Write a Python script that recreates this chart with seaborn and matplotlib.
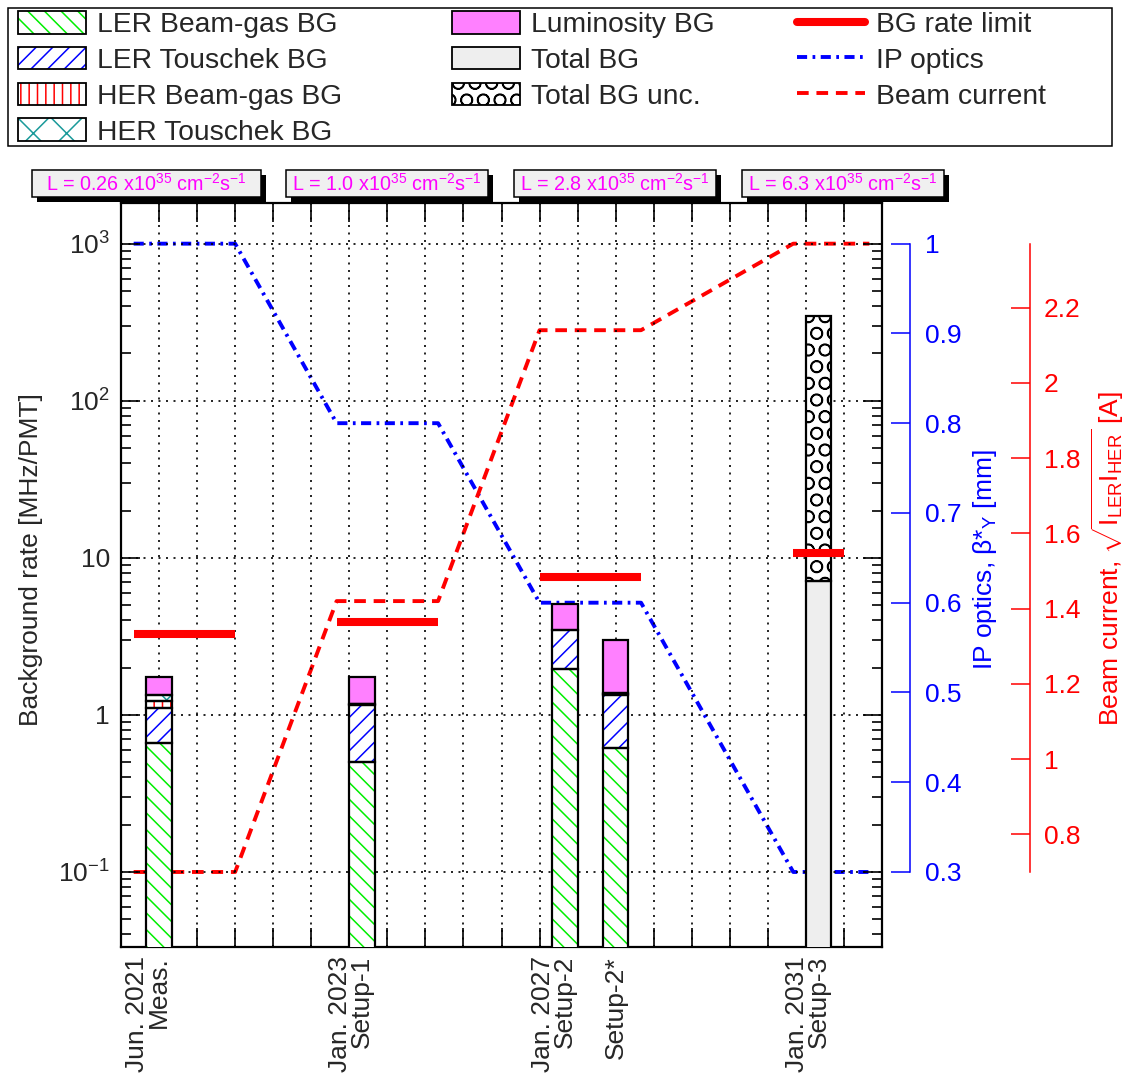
import matplotlib
matplotlib.use('Agg')
import matplotlib.pyplot as plt
import matplotlib.transforms as mtransforms
import numpy as np
import seaborn as sns
from matplotlib.lines import Line2D
from matplotlib.patches import Patch, Rectangle
from matplotlib.ticker import FixedLocator, FixedFormatter, LogLocator, MultipleLocator, NullFormatter, FuncFormatter

# ---- data ----
setup_x = [1.0, 6.333, 11.667, 13.0, 18.333]
setup_names = ['Meas.', 'Setup-1', 'Setup-2', 'Setup-2*', 'Setup-3']
setup_dates = ['Jun. 2021', 'Jan. 2023', 'Jan. 2027', '', 'Jan. 2031']

ler_bgas = [0.66, 0.50, 1.97, 0.62, 0.0]
ler_tous = [0.45, 0.66, 1.50, 0.72, 0.0]
her_bgas = [0.12, 0.01, 0.0, 0.02, 0.0]
her_tous = [0.10, 0.01, 0.0, 0.01, 0.0]
lumi_bg = [0.42, 0.57, 1.60, 1.61, 0.0]
total_bg = [0.0, 0.0, 0.0, 0.0, 7.14]
total_unc_top = [0.0, 0.0, 0.0, 0.0, 345.0]

limit_x0 = [0.333, 5.667, 11.0, 17.667]
limit_x1 = [3.0, 8.333, 13.667, 19.0]
limit_rate = [3.26, 3.92, 7.57, 10.8]

line_x = [0.333, 3.0, 5.667, 8.333, 11.0, 13.667, 17.667, 19.667]
beta_y = [1.0, 1.0, 0.8, 0.8, 0.6, 0.6, 0.3, 0.3]
beam_current = [0.70, 0.70, 1.42, 1.42, 2.14, 2.14, 2.37, 2.37]

lumi_values = ['0.26', '1.0', '2.8', '6.3']

beta_axis = (0.3, 1.0)
current_axis = (0.70, 2.37)
rate_lim = (0.0333, 1815.0)

W, H = 1127, 1083


def twin_limits(lo, hi):
    # place lo/hi at the heights of 1e-1 and 1e3 on the log frame
    span = np.log10(rate_lim[1]) - np.log10(rate_lim[0])
    f_lo = (-1 - np.log10(rate_lim[0])) / span
    f_hi = (3 - np.log10(rate_lim[0])) / span
    full = (hi - lo) / (f_hi - f_lo)
    bottom = lo - f_lo * full
    return bottom, bottom + full


def draw_segment(ax, x, bottom, height, face, hatch_color=None, hatch=None):
    if height <= 0:
        return
    if hatch:
        ax.bar(x, height, bottom=bottom, width=0.667, facecolor=face, edgecolor=hatch_color,
               hatch=hatch, linewidth=0, zorder=3)
    else:
        ax.bar(x, height, bottom=bottom, width=0.667, facecolor=face, linewidth=0, zorder=3)
    ax.bar(x, height, bottom=bottom, width=0.667, fill=False, edgecolor='black', linewidth=1.6, zorder=4)


def run():
    sns.set_style('white')
    plt.rcParams['font.family'] = ['Liberation Sans', 'DejaVu Sans']
    plt.rcParams['mathtext.fontset'] = 'custom'
    plt.rcParams['mathtext.rm'] = 'Liberation Sans'
    plt.rcParams['mathtext.it'] = 'Liberation Sans:italic'
    plt.rcParams['mathtext.bf'] = 'Liberation Sans:bold'
    plt.rcParams['hatch.linewidth'] = 1.1

    fig = plt.figure(figsize=(W / 100, H / 100), dpi=100)
    ax = fig.add_axes([121 / W, 1 - 947 / H, 761 / W, 744 / H])

    green, blue, red, teal = '#00ee00', '#0000ff', '#ff0000', '#1a9a9a'
    layers = [
        (ler_bgas, 'white', green, '\\\\'),
        (ler_tous, 'white', blue, '//'),
        (her_bgas, 'white', red, '||'),
        (her_tous, 'white', teal, 'x'),
        (lumi_bg, '#ff80ff', None, None),
    ]
    bottoms = np.zeros(len(setup_x))
    for vals, face, hc, hatch in layers:
        for i, x in enumerate(setup_x):
            draw_segment(ax, x, bottoms[i], vals[i], face, hc, hatch)
        bottoms += np.array(vals)
    for i, x in enumerate(setup_x):
        draw_segment(ax, x, 0, total_bg[i], '#eeeeee')
        draw_segment(ax, x, total_bg[i], total_unc_top[i] - total_bg[i], 'white', 'black', 'O')

    ax.hlines(limit_rate, limit_x0, limit_x1, colors=red, linewidth=5.8, zorder=6)

    ax.set_yscale('log')
    ax.set_xlim(0, 20)
    ax.set_ylim(*rate_lim)
    ax.xaxis.set_major_locator(MultipleLocator(1))
    ax.yaxis.set_major_locator(FixedLocator([0.1, 1, 10, 100, 1000]))
    ax.yaxis.set_major_formatter(FixedFormatter(['$10^{-1}$', '1', '10', '$10^{2}$', '$10^{3}$']))
    ax.yaxis.set_minor_locator(LogLocator(base=10, subs=np.arange(2, 10), numticks=30))
    ax.yaxis.set_minor_formatter(NullFormatter())
    ax.grid(True, which='major', color='black', linestyle=(0, (1.2, 3.3)), linewidth=1.2)
    ax.set_axisbelow(True)
    for sp in ax.spines.values():
        sp.set_linewidth(1.6)
        sp.set_color('black')

    # IP optics axis
    ax2 = ax.twinx()
    sns.lineplot(x=line_x, y=beta_y, ax=ax2, color=blue, linewidth=2.8,
                 linestyle=(0, (2.6, 1.4, 0.7, 1.4)), zorder=2)
    ax2.set_ylim(*twin_limits(*beta_axis))
    ax2.spines['right'].set_position(('axes', 1 + 28 / 761))
    ax2.spines['right'].set_bounds(*beta_axis)
    ax2.spines['right'].set_color(blue)
    ax2.spines['right'].set_linewidth(1.1)
    ax2.yaxis.set_major_locator(FixedLocator(np.round(np.arange(0.3, 1.01, 0.1), 1)))
    ax2.yaxis.set_major_formatter(FuncFormatter(lambda v, p: '%g' % v))
    ax2.tick_params(axis='y', direction='in', length=14, width=1.1, colors=blue, labelsize=19, pad=11)

    # beam current axis
    ax3 = ax.twinx()
    sns.lineplot(x=line_x, y=beam_current, ax=ax3, color=red, linewidth=2.8,
                 linestyle=(0, (3.0, 2.0)), zorder=2)
    ax3.set_ylim(*twin_limits(*current_axis))
    ax3.spines['right'].set_position(('axes', 1 + 148 / 761))
    ax3.spines['right'].set_bounds(*current_axis)
    ax3.spines['right'].set_color(red)
    ax3.spines['right'].set_linewidth(1.1)
    ax3.yaxis.set_major_locator(FixedLocator([0.8, 1.0, 1.2, 1.4, 1.6, 1.8, 2.0, 2.2]))
    ax3.yaxis.set_major_formatter(FuncFormatter(lambda v, p: '%g' % v))
    ax3.tick_params(axis='y', direction='in', length=14, width=1.1, colors=red, labelsize=19, pad=10)

    for a in (ax2, ax3):
        a.set_xlabel('')
        a.set_ylabel('')
        for s in ('left', 'top', 'bottom'):
            a.spines[s].set_visible(False)

    ax.set_zorder(ax3.get_zorder() + 1)
    ax.patch.set_visible(False)
    ax.tick_params(which='both', direction='in', top=True, right=True, bottom=True, left=True,
                   labelbottom=False, labelsize=19, pad=8, width=1.2, color='black')
    ax.tick_params(which='major', length=14)
    ax.tick_params(which='minor', length=7)
    ax.set_xlabel('')

    # bin labels under the frame
    trans = mtransforms.blended_transform_factory(ax.transData, ax.transAxes)
    for x, name, date in zip(setup_x, setup_names, setup_dates):
        ax.text(x, -0.012, name, transform=trans, rotation=90, ha='center', va='top', fontsize=19)
        if date:
            ax.text(x - 0.58, -0.012, date, transform=trans, rotation=90, ha='center', va='top', fontsize=19)

    # axis titles
    fig.text(31 / W, 1 - 560 / H, 'Background rate [MHz/PMT]', rotation=90, ha='center', va='center', fontsize=19)
    fig.text(985 / W, 1 - 560 / H, r'IP optics, β*$_{\mathrm{Y}}$ [mm]', rotation=90, ha='center', va='center',
             fontsize=19, color=blue)
    fig.text(1108 / W, 1 - 558 / H,
             r'Beam current, $\sqrt{\mathrm{I}_{\mathrm{LER}}\mathrm{I}_{\mathrm{HER}}}$ [A]',
             rotation=90, ha='center', va='center', fontsize=19, color=red)

    # luminosity boxes with shadow
    box_left = [32, 286, 514, 742]
    box_width = [229, 202, 202, 202]
    for lv, bl, bw in zip(lumi_values, box_left, box_width):
        fig.add_artist(Rectangle(((bl + 5) / W, 1 - 202 / H), bw / W, 27 / H, transform=fig.transFigure,
                                 facecolor='black', edgecolor='black', linewidth=0))
        fig.add_artist(Rectangle((bl / W, 1 - 197 / H), bw / W, 27 / H, transform=fig.transFigure,
                                 facecolor='#f0f0f0', edgecolor='black', linewidth=1.1))
        fig.text((bl + bw / 2) / W, 1 - 183.5 / H,
                 r'L = %s x10$^{35}$ cm$^{-2}$s$^{-1}$' % lv,
                 ha='center', va='center', fontsize=14.2, color='#ff00ff')

    # legend: three columns in one frame
    def hatched(c, h):
        return (Patch(facecolor='white', edgecolor=c, hatch=h, linewidth=0),
                Patch(facecolor='none', edgecolor='black', linewidth=1.3))

    handles = [
        hatched(green, '\\\\'), hatched(blue, '//'), hatched(red, '||'), hatched(teal, 'x'),
        Patch(facecolor='#ff80ff', edgecolor='black', linewidth=1.3),
        Patch(facecolor='#eeeeee', edgecolor='black', linewidth=1.3),
        hatched('black', 'O'),
        Line2D([], [], color=red, linewidth=5.8),
        Line2D([], [], color=blue, linewidth=2.8, linestyle=(0, (2.6, 1.4, 0.7, 1.4))),
        Line2D([], [], color=red, linewidth=2.8, linestyle=(0, (3.0, 2.0))),
    ]
    labels = ['LER Beam-gas BG', 'LER Touschek BG', 'HER Beam-gas BG', 'HER Touschek BG',
              'Luminosity BG', 'Total BG', 'Total BG unc.',
              'BG rate limit', 'IP optics', 'Beam current']
    fig.add_artist(Rectangle((8 / W, 1 - 146 / H), 1104 / W, 138 / H, transform=fig.transFigure,
                             facecolor='white', edgecolor='black', linewidth=1.1, zorder=0))
    col_slices = [(0, 4), (4, 7), (7, 10)]
    col_left = [18, 452, 797]
    for (a, b), cx in zip(col_slices, col_left):
        fig.legend(handles[a:b], labels[a:b], loc='upper left', bbox_to_anchor=(cx / W, 1 - 11 / H),
                   borderaxespad=0, borderpad=0, fontsize=20.3, frameon=False,
                   handlelength=2.4, handleheight=0.86, handletextpad=0.4, labelspacing=0.31)

    fig.savefig('out.png', dpi=100)
    plt.close(fig)


if __name__ == '__main__':
    run()
